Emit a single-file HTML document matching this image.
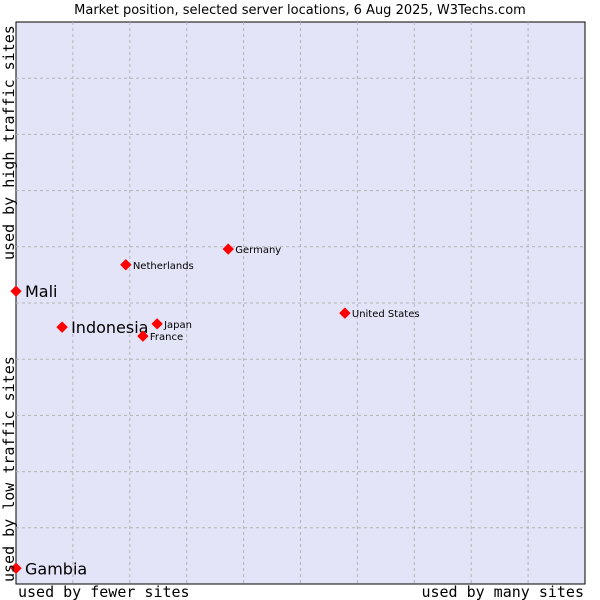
<!DOCTYPE html>
<html><head><meta charset="utf-8"><style>
body{margin:0;background:#fff;width:600px;height:600px;overflow:hidden}
svg{display:block}
</style></head><body>
<svg id="chart" width="600" height="600">
<text x="300" y="14" text-anchor="middle" font-family="DejaVu Sans, sans-serif" font-size="13" fill="#000">Market position, selected server locations, 6 Aug 2025, W3Techs.com</text>
<rect x="16" y="22" width="569" height="562" fill="#e3e4f8" stroke="#000" stroke-width="1"/>
<g id="grid"></g>
<g id="points"></g>
<text transform="translate(14,260) rotate(-90)" font-family="DejaVu Sans Mono, Liberation Mono, monospace" font-size="15" fill="#000">used by high traffic sites</text>
<text transform="translate(14,582) rotate(-90)" font-family="DejaVu Sans Mono, Liberation Mono, monospace" font-size="15" fill="#000">used by low traffic sites</text>
<text x="18" y="597" font-family="DejaVu Sans Mono, Liberation Mono, monospace" font-size="15" fill="#000">used by fewer sites</text>
<text x="584" y="597" text-anchor="end" font-family="DejaVu Sans Mono, Liberation Mono, monospace" font-size="15" fill="#000">used by many sites</text>
</svg>
<script>
const categories=["Gambia","Mali","Indonesia","Netherlands","Germany","Japan","France","United States"];
const xValues=[0,0,8.1,19.3,37.3,24.8,22.3,57.8];
const yValues=[2.8,52.1,45.7,56.8,59.6,46.3,44.1,48.2];
const bigLabel=[true,true,true,false,false,false,false,false];
const NS="http://www.w3.org/2000/svg";
const X0=16,X1=585,Y0=584,Y1=22;
function sx(v){return X0+v/100*(X1-X0);}
function sy(v){return Y0-v/100*(Y0-Y1);}
const grid=document.getElementById('grid');
for(let i=1;i<10;i++){
  const v=document.createElementNS(NS,'line');
  v.setAttribute('x1',sx(i*10));v.setAttribute('x2',sx(i*10));v.setAttribute('y1',Y1);v.setAttribute('y2',Y0);
  v.setAttribute('stroke','#b4b4b4');v.setAttribute('stroke-dasharray','3,3');
  
  
  grid.appendChild(v);
  const h=document.createElementNS(NS,'line');
  h.setAttribute('y1',sy(i*10));h.setAttribute('y2',sy(i*10));h.setAttribute('x1',X0);h.setAttribute('x2',X1);
  h.setAttribute('stroke','#b4b4b4');h.setAttribute('stroke-dasharray','3,3');
  
  
  grid.appendChild(h);
}
const pts=document.getElementById('points');
categories.forEach((c,i)=>{
  const x=sx(xValues[i]),y=sy(yValues[i]);
  const d=document.createElementNS(NS,'path');
  d.setAttribute('d',`M${x-5},${y}L${x},${y-5}L${x+5},${y}L${x},${y+5}Z`);
  d.setAttribute('fill','#f00');
  d.setAttribute('stroke','#f00');
  d.setAttribute('stroke-width','1');
  d.setAttribute('stroke-linejoin','round');
  
  
  pts.appendChild(d);
  const t=document.createElementNS(NS,'text');
  t.setAttribute('x',x+(bigLabel[i]?9:7));
  t.setAttribute('y',y+(bigLabel[i]?6:4));
  t.setAttribute('font-family','DejaVu Sans, sans-serif');
  t.setAttribute('font-size',bigLabel[i]?'16':'10');
  t.setAttribute('fill','#000');
  t.textContent=c;
  
  
  pts.appendChild(t);
});
</script>
</body></html>
